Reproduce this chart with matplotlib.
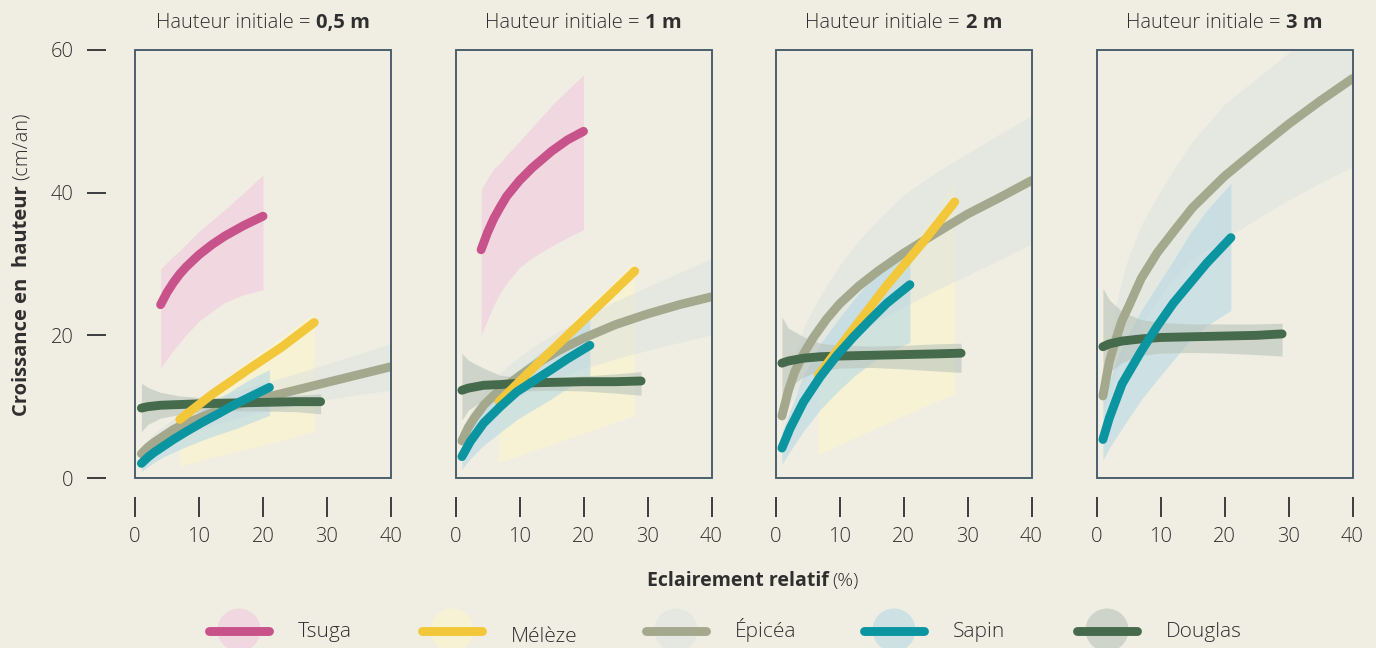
import matplotlib
matplotlib.use("Agg")
import matplotlib.pyplot as plt
from matplotlib.patches import Rectangle, Ellipse

# ---------------- data ----------------
heights = ["0,5 m", "1 m", "2 m", "3 m"]
species = ["Tsuga", "Mélèze", "Épicéa", "Sapin", "Douglas"]
x_ticks = [0, 10, 20, 30, 40]
y_ticks = [0, 20, 40, 60]

# Hauteur initiale = 0,5 m
x_tsuga_05 = [4, 5, 6, 7, 8, 10, 12, 14, 17, 20]
y_tsuga_05 = [24.3, 26.0, 27.4, 28.6, 29.6, 31.3, 32.7, 33.9, 35.4, 36.7]
lo_tsuga_05 = [15.4, 16.7, 17.9, 19.0, 20.1, 22.0, 23.3, 24.6, 25.7, 26.4]
hi_tsuga_05 = [29.3, 30.2, 31.1, 31.9, 32.8, 34.6, 36.1, 37.6, 40.0, 42.5]

x_meleze_05 = [7, 12, 17.5, 23, 28]
y_meleze_05 = [8.2, 11.7, 15.1, 18.4, 21.8]
lo_meleze_05 = [1.7, 2.9, 4.1, 5.3, 6.6]
hi_meleze_05 = [8.9, 12.6, 16.3, 19.8, 23.2]

x_epicea_05 = [1, 2, 3, 4.5, 6, 8, 10, 13, 16, 20, 25, 30, 35, 40]
y_epicea_05 = [3.4, 4.3, 5.0, 5.9, 6.8, 7.7, 8.4, 9.5, 10.3, 11.2, 12.3, 13.4, 14.5, 15.6]
lo_epicea_05 = [2.4, 3.1, 3.7, 4.5, 5.3, 6.1, 6.8, 7.6, 8.4, 9.2, 10.1, 11.0, 11.7, 12.3]
hi_epicea_05 = [4.4, 5.4, 6.3, 7.3, 8.3, 9.3, 10.2, 11.4, 12.3, 13.3, 14.6, 16.0, 17.4, 18.9]

x_sapin_05 = [1, 2, 3, 4.5, 6, 8, 10.5, 13, 16, 18.5, 21]
y_sapin_05 = [2.05, 2.9, 3.6, 4.5, 5.4, 6.5, 7.8, 9.0, 10.5, 11.6, 12.7]
lo_sapin_05 = [0.9, 1.6, 2.2, 3.0, 3.6, 4.4, 5.3, 6.1, 7.0, 7.9, 8.8]
hi_sapin_05 = [3.0, 3.9, 4.7, 5.8, 6.8, 8.1, 9.5, 11.0, 12.8, 14.1, 15.2]

x_douglas_05 = [1, 2, 4, 7, 10, 15, 20, 25, 29]
y_douglas_05 = [9.8, 10.0, 10.2, 10.3, 10.4, 10.5, 10.6, 10.7, 10.7]
lo_douglas_05 = [6.5, 7.5, 8.4, 8.9, 9.2, 9.4, 9.4, 9.3, 9.0]
hi_douglas_05 = [13.3, 12.7, 12.0, 11.5, 11.3, 11.3, 11.4, 11.6, 11.8]

# Hauteur initiale = 1 m
x_tsuga_1 = [4, 5, 6, 7, 8, 10, 12, 15, 17.5, 20]
y_tsuga_1 = [32.0, 34.4, 36.4, 38.0, 39.5, 41.7, 43.5, 45.8, 47.4, 48.6]
lo_tsuga_1 = [20.0, 22.2, 24.3, 26.0, 27.3, 29.5, 30.9, 32.5, 33.7, 34.8]
hi_tsuga_1 = [40.4, 42.0, 43.4, 44.2, 45.3, 47.2, 49.2, 52.2, 54.4, 56.5]

x_meleze_1 = [6.8, 12, 17.4, 23, 28]
y_meleze_1 = [10.7, 15.3, 19.9, 24.7, 29.0]
lo_meleze_1 = [2.2, 3.8, 5.5, 7.2, 8.8]
hi_meleze_1 = [11.5, 16.4, 21.2, 26.0, 30.4]

x_epicea_1 = [1, 2, 3, 4.5, 6, 8, 10, 13, 16, 20, 25, 30, 35, 40]
y_epicea_1 = [5.2, 7.1, 8.5, 10.3, 11.6, 13.0, 14.3, 16.2, 17.8, 19.6, 21.5, 23.0, 24.3, 25.4]
lo_epicea_1 = [4.0, 5.5, 6.6, 8.2, 9.3, 10.5, 11.4, 12.8, 14.0, 15.3, 16.7, 17.9, 19.0, 20.1]
hi_epicea_1 = [6.5, 8.7, 10.3, 12.3, 13.9, 15.6, 17.0, 18.9, 20.5, 22.6, 24.8, 26.8, 28.8, 30.8]

x_sapin_1 = [1, 2.3, 4.4, 7, 9.6, 12.2, 14.8, 17.5, 21]
y_sapin_1 = [3.0, 5.1, 7.7, 10.0, 12.1, 13.6, 15.1, 16.7, 18.6]
lo_sapin_1 = [1.2, 2.7, 4.6, 6.4, 8.2, 9.6, 11.0, 12.6, 14.3]
hi_sapin_1 = [4.2, 6.7, 9.8, 12.6, 15.0, 16.8, 18.6, 20.4, 22.4]

x_douglas_1 = [1, 2, 4.4, 7, 10, 15, 20, 25, 29]
y_douglas_1 = [12.3, 12.6, 13.0, 13.1, 13.3, 13.4, 13.5, 13.5, 13.6]
lo_douglas_1 = [8.1, 9.5, 11.0, 11.8, 12.2, 12.3, 12.2, 11.9, 11.6]
hi_douglas_1 = [17.5, 16.5, 15.4, 14.4, 14.1, 14.1, 14.3, 14.6, 14.9]

# Hauteur initiale = 2 m
x_meleze_2 = [6.7, 12, 17.4, 23, 28]
y_meleze_2 = [14.4, 20.7, 27.0, 33.0, 38.7]
lo_meleze_2 = [3.3, 5.5, 7.7, 9.9, 11.8]
hi_meleze_2 = [15.3, 22.0, 28.6, 35.0, 41.5]

x_epicea_2 = [1, 2, 3, 4.5, 6, 8, 10, 13, 16, 20, 25, 30, 35, 40]
y_epicea_2 = [8.7, 12.2, 14.9, 17.6, 19.8, 22.3, 24.4, 26.9, 29.0, 31.5, 34.3, 37.0, 39.3, 41.7]
lo_epicea_2 = [7.0, 9.8, 11.8, 13.8, 15.3, 17.0, 18.5, 20.5, 22.0, 24.0, 26.3, 28.4, 30.6, 32.8]
hi_epicea_2 = [10.5, 14.5, 17.5, 21.3, 24.0, 27.0, 29.8, 33.3, 36.2, 39.7, 42.8, 45.5, 48.2, 50.8]

x_sapin_2 = [1, 2.3, 4.4, 7, 9.6, 12.2, 14.8, 17.4, 21]
y_sapin_2 = [4.2, 7.0, 10.7, 14.2, 17.2, 19.8, 22.2, 24.5, 27.1]
lo_sapin_2 = [1.9, 3.8, 6.6, 9.6, 12.0, 14.2, 16.0, 17.6, 19.0]
hi_sapin_2 = [6.5, 9.5, 14.5, 18.8, 22.0, 25.0, 27.7, 30.3, 32.8]

x_douglas_2 = [1, 2, 4.4, 7, 10, 15, 20, 25, 29]
y_douglas_2 = [16.1, 16.4, 16.8, 17.0, 17.1, 17.2, 17.3, 17.4, 17.5]
lo_douglas_2 = [11.4, 12.6, 14.2, 15.0, 15.4, 15.5, 15.3, 15.0, 14.8]
hi_douglas_2 = [22.6, 21.0, 19.8, 18.9, 18.6, 18.5, 18.6, 18.8, 18.9]

# Hauteur initiale = 3 m
x_epicea_3 = [1, 2, 3, 4, 5, 7, 9.5, 12, 15, 20, 25, 30, 35, 40]
y_epicea_3 = [11.5, 16.3, 19.4, 22.1, 24.0, 28.0, 31.6, 34.5, 37.9, 42.3, 46.0, 49.6, 52.9, 56.0]
lo_epicea_3 = [9.5, 12.5, 14.8, 17.0, 18.5, 21.5, 25.0, 28.0, 30.8, 33.5, 36.3, 39.0, 41.4, 43.6]
hi_epicea_3 = [14.0, 19.5, 24.0, 28.0, 31.0, 35.5, 39.5, 43.2, 47.2, 52.4, 56.0, 59.6, 63.0, 66.5]

x_sapin_3 = [1, 2, 4, 7, 9.5, 12, 14.6, 17.2, 21]
y_sapin_3 = [5.4, 8.4, 13.2, 17.8, 21.3, 24.5, 27.3, 30.1, 33.7]
lo_sapin_3 = [2.5, 4.2, 7.0, 11.0, 13.8, 16.5, 19.3, 21.3, 23.5]
hi_sapin_3 = [11.0, 13.5, 18.5, 23.5, 27.0, 30.5, 34.3, 37.5, 41.3]

x_douglas_3 = [1, 2, 4, 7, 10, 15, 20, 25, 29]
y_douglas_3 = [18.4, 18.8, 19.2, 19.5, 19.7, 19.8, 19.9, 20.0, 20.2]
lo_douglas_3 = [13.7, 14.8, 16.2, 17.2, 17.5, 17.6, 17.5, 17.3, 17.1]
hi_douglas_3 = [26.6, 25.0, 23.3, 22.2, 21.8, 21.6, 21.6, 21.6, 21.7]

# ---------------- style ----------------
BG = "#f0eee2"
FRAME = "#4b5f6c"
TXT = "#2f2f2f"
line_colors = {"Tsuga": "#c8528a", "Mélèze": "#f2c73a", "Épicéa": "#a4a98e",
               "Sapin": "#0b95a0", "Douglas": "#466b4c"}
band_colors = {"Tsuga": "#f3c9df", "Mélèze": "#fff5cc", "Épicéa": "#dfe4df",
               "Sapin": "#b6d8e5", "Douglas": "#b9c4bc"}
BAND_ALPHA = 0.6
LW = 6.4
FS = 14.5

plt.rcParams["font.family"] = ["Open Sans", "DejaVu Sans"]
plt.rcParams["font.weight"] = "light"

panels = [
    {"Tsuga": (x_tsuga_05, y_tsuga_05, lo_tsuga_05, hi_tsuga_05),
     "Mélèze": (x_meleze_05, y_meleze_05, lo_meleze_05, hi_meleze_05),
     "Épicéa": (x_epicea_05, y_epicea_05, lo_epicea_05, hi_epicea_05),
     "Sapin": (x_sapin_05, y_sapin_05, lo_sapin_05, hi_sapin_05),
     "Douglas": (x_douglas_05, y_douglas_05, lo_douglas_05, hi_douglas_05)},
    {"Tsuga": (x_tsuga_1, y_tsuga_1, lo_tsuga_1, hi_tsuga_1),
     "Mélèze": (x_meleze_1, y_meleze_1, lo_meleze_1, hi_meleze_1),
     "Épicéa": (x_epicea_1, y_epicea_1, lo_epicea_1, hi_epicea_1),
     "Sapin": (x_sapin_1, y_sapin_1, lo_sapin_1, hi_sapin_1),
     "Douglas": (x_douglas_1, y_douglas_1, lo_douglas_1, hi_douglas_1)},
    {"Mélèze": (x_meleze_2, y_meleze_2, lo_meleze_2, hi_meleze_2),
     "Épicéa": (x_epicea_2, y_epicea_2, lo_epicea_2, hi_epicea_2),
     "Sapin": (x_sapin_2, y_sapin_2, lo_sapin_2, hi_sapin_2),
     "Douglas": (x_douglas_2, y_douglas_2, lo_douglas_2, hi_douglas_2)},
    {"Épicéa": (x_epicea_3, y_epicea_3, lo_epicea_3, hi_epicea_3),
     "Sapin": (x_sapin_3, y_sapin_3, lo_sapin_3, hi_sapin_3),
     "Douglas": (x_douglas_3, y_douglas_3, lo_douglas_3, hi_douglas_3)},
]

W, H = 1376, 648
fig = plt.figure(figsize=(W / 100, H / 100), dpi=100, facecolor=BG)

# overlay for legend (pixel coordinates)
lax = fig.add_axes([0, 0, 1, 1])
lax.set_xlim(0, W)
lax.set_ylim(H, 0)
lax.axis("off")

lefts = [135, 455.5, 775.5, 1096.5]
ax_bottom, ax_top = 478, 50
ax_w = 256
band_order = ["Tsuga", "Mélèze", "Épicéa", "Sapin", "Douglas"]
line_order = ["Épicéa", "Douglas", "Mélèze", "Sapin", "Tsuga"]
for i, data in enumerate(panels):
    ax = fig.add_axes([lefts[i] / W, 1 - ax_bottom / H, ax_w / W, (ax_bottom - ax_top) / H])
    ax.set_facecolor(BG)
    ax.set_xlim(0, 40)
    ax.set_ylim(0, 60)
    for s in ax.spines.values():
        s.set_visible(False)
    ax.spines["bottom"].set_position(("outward", 13.7))
    ax.spines["left"].set_position(("outward", 21))
    ax.add_patch(Rectangle((0, 0), 1, 1, transform=ax.transAxes, fill=False,
                           ec=FRAME, lw=1.4, zorder=10, clip_on=False))
    for sp in band_order:
        if sp in data:
            x, y, lo, hi = data[sp]
            ax.fill_between(x, lo, hi, color=band_colors[sp], alpha=BAND_ALPHA, lw=0, zorder=1)
    for sp in line_order:
        if sp in data:
            x, y, lo, hi = data[sp]
            ax.plot(x, y, color=line_colors[sp], lw=LW, solid_capstyle="round",
                    solid_joinstyle="round", zorder=3)
    ax.set_xticks(x_ticks)
    ax.tick_params(axis="x", length=14.4, width=1.3, color=TXT, pad=7.5,
                   labelsize=FS, labelcolor=TXT)
    if i == 0:
        ax.set_yticks(y_ticks)
        ax.tick_params(axis="y", length=13.7, width=1.3, color=TXT, pad=9.4,
                       labelsize=FS, labelcolor=TXT)
    else:
        ax.set_yticks([])

renderer = fig.canvas.get_renderer()


def parts_text(parts, xc, yb, fs, rotation=0, gap=5):
    """Place multi-weight text centered at xc (px) with baseline yb (px, from top)."""
    ts = []
    for s, w in parts:
        t = fig.text(0, 0, s, fontsize=fs, fontweight=w, color=TXT, ha="left",
                     va="baseline", rotation=rotation, rotation_mode="anchor")
        ts.append(t)
    sizes = []
    for t in ts:
        bb = t.get_window_extent(renderer)
        sizes.append(bb.height if rotation else bb.width)
    total = sum(sizes) + gap * (len(ts) - 1)
    if rotation:
        pos = yb + total / 2
        for t, sz in zip(ts, sizes):
            t.set_position((xc / W, 1 - pos / H))
            pos -= sz + gap
    else:
        pos = xc - total / 2
        for t, sz in zip(ts, sizes):
            t.set_position((pos / W, 1 - yb / H))
            pos += sz + gap


for i, h in enumerate(heights):
    parts_text([("Hauteur initiale =", "light"), (h, "bold")], lefts[i] + ax_w / 2, 28, FS, gap=6)

parts_text([("Croissance en  hauteur", "bold"), ("(cm/an)", "light")], 27, 264, 14.5, rotation=90, gap=5)
parts_text([("Eclairement relatif", "bold"), ("(%)", "light")], 753, 586, 14, gap=4)

# legend
leg_line_x = [205, 418, 642, 860, 1073]
leg_base = [637, 642, 637, 637, 637]
for sp, lx, bl in zip(species, leg_line_x, leg_base):
    cx = lx + 34
    lax.add_patch(Ellipse((cx, 630), 43, 43, color=band_colors[sp], alpha=BAND_ALPHA, lw=0))
    lax.plot([lx + 4, lx + 64], [631, 631], color=line_colors[sp], lw=LW, solid_capstyle="round")
    lax.text(lx + 93, bl, sp, fontsize=15, color=TXT, ha="left", va="baseline")

fig.savefig("out.png", dpi=100, facecolor=BG)
